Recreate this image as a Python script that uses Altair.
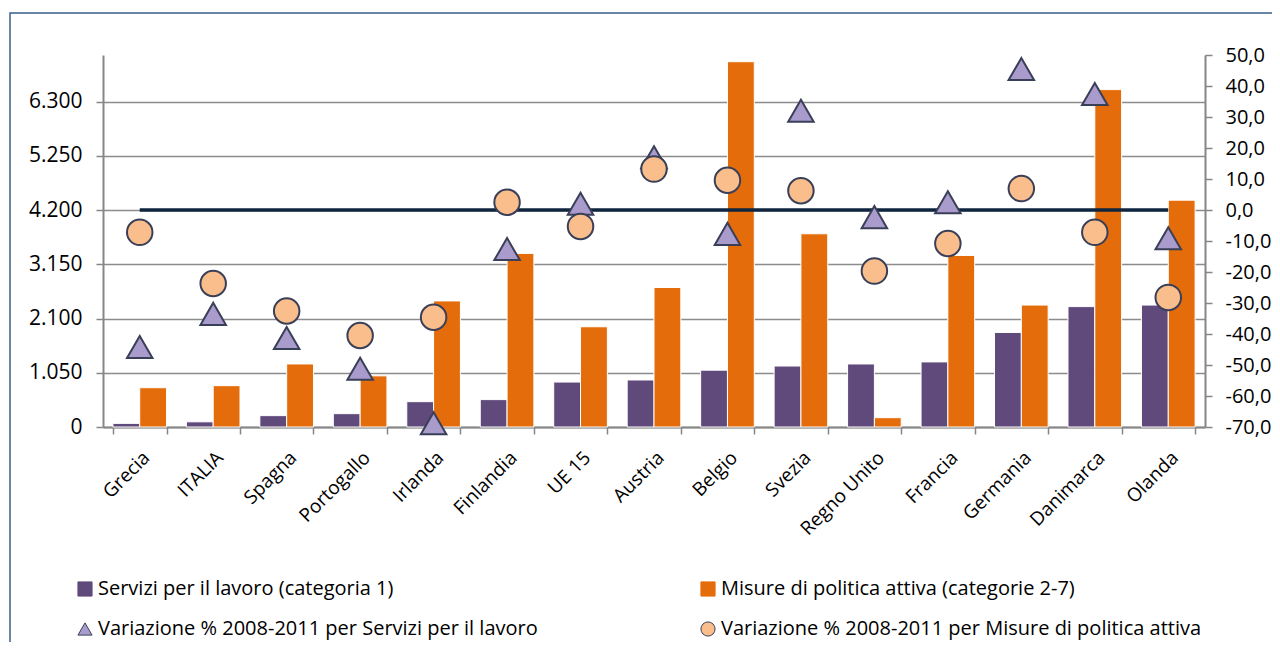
import altair as alt
import pandas as pd

cats = ["Grecia", "ITALIA", "Spagna", "Portogallo", "Irlanda", "Finlandia", "UE 15",
        "Austria", "Belgio", "Svezia", "Regno Unito", "Francia", "Germania",
        "Danimarca", "Olanda"]
servizi = [70, 100, 220, 258, 490, 530, 870, 910, 1100, 1180, 1220, 1260, 1830, 2330, 2360]
misure = [760, 800, 1220, 990, 2440, 3360, 1940, 2700, 7070, 3740, 180, 3320, 2360, 6530, 4390]
var_serv = [-44.2, -33.5, -41.3, -51.2, -68.8, -12.6, 2.0, 17.0, -7.7, 32.0, -2.3, 2.5, 45.5, 37.4, -9.1]
var_mis = [-7.2, -23.7, -32.6, -40.5, -34.6, 2.5, -5.3, 13.2, 9.6, 6.2, -19.7, -10.8, 6.9, -7.2, -28.2]
zero_line = [0] * 15

left_ticks = [0, 1050, 2100, 3150, 4200, 5250, 6300]
right_ticks = [-70, -60, -50, -40, -30, -20, -10, 0, 10, 20, 30, 40, 50]

S1 = "Servizi per il lavoro (categoria 1)"
S2 = "Misure di politica attiva (categorie 2-7)"
S3 = "Variazione % 2008-2011 per Servizi per il lavoro"
S4 = "Variazione % 2008-2011 per Misure di politica attiva"
# legend fills column by column: order chosen so rows read S1 S2 / S3 S4
series = [S1, S3, S2, S4]

PURPLE = "#604A7B"
ORANGE = "#E46C0A"
LAVENDER = "#A99BCB"
PEACH = "#F9BE8C"
DARK = "#3A3F58"
GRID = "#8C8C8C"
FONT = "Open Sans"

bars_df = pd.DataFrame({"cat": cats * 2, "serie": [S1] * 15 + [S2] * 15,
                        "valore": servizi + misure})
pts_df = pd.DataFrame({"cat": cats * 2, "serie": [S3] * 15 + [S4] * 15,
                       "valore": var_serv + var_mis})
zero_df = pd.DataFrame({"cat": cats, "valore": zero_line})

legend = alt.Legend(title=None, orient="none", legendX=-28, legendY=524, columns=2,
                    columnPadding=160, rowPadding=20, labelFont=FONT, labelFontSize=20,
                    labelColor="black", symbolSize=200, symbolStrokeWidth=1,
                    labelOffset=3, padding=0, labelLimit=700)

color_scale = alt.Scale(domain=series, range=[PURPLE, LAVENDER, ORANGE, PEACH])
shape_scale = alt.Scale(domain=series, range=["square", "triangle-up", "square", "circle"])
stroke_scale = alt.Scale(domain=series, range=[PURPLE, DARK, ORANGE, DARK])

xenc = alt.X("cat:N", sort=cats,
             scale=alt.Scale(paddingInner=0.27, paddingOuter=0.135),
             axis=alt.Axis(title=None, labelAngle=-45, labelFont=FONT, labelFontSize=19,
                           labelColor="black", labelPadding=14, tickBand="extent",
                           tickSize=7, tickColor="#868686", tickWidth=1.5,
                           domainColor="#868686", domainWidth=2))

yleft = alt.Y("valore:Q", scale=alt.Scale(domain=[0, 7200], nice=False),
              axis=alt.Axis(orient="left", title=None, values=left_ticks,
                            labelExpr="replace(format(datum.value, ','), ',', '.')",
                            grid=True, gridColor=GRID, gridWidth=1.5,
                            tickSize=7, tickColor="#868686", tickWidth=1.5,
                            domainColor="#868686", domainWidth=2,
                            labelFont=FONT, labelFontSize=21, labelColor="black",
                            labelPadding=14))

yright = alt.Y("valore:Q", scale=alt.Scale(domain=[-70, 50], nice=False),
               axis=alt.Axis(orient="right", title=None, values=right_ticks,
                             labelExpr="(datum.value < 0 ? '-' : '') + replace(format(abs(datum.value), '.1f'), '.', ',')",
                             grid=False, tickSize=7, tickColor="#868686", tickWidth=1.5,
                             domainColor="#868686", domainWidth=2,
                             labelFont=FONT, labelFontSize=20, labelColor="black",
                             labelPadding=13))

frame = alt.Chart(alt.Data(values=[{"k": 1}])).mark_rect(
    fillOpacity=0, stroke="#385D8A", strokeWidth=1.5
).encode(x=alt.value(-93), x2=alt.value(1250), y=alt.value(-42), y2=alt.value(700))

bars = alt.Chart(bars_df).mark_bar(stroke="white", strokeWidth=1).encode(
    x=xenc,
    xOffset=alt.XOffset("serie:N", sort=[S1, S2]),
    y=yleft,
    color=alt.Color("serie:N", scale=color_scale, legend=legend),
)

line = alt.Chart(zero_df).mark_line(color="#0F243E", strokeWidth=3.5).encode(
    x=xenc, y=yright
)

points = alt.Chart(pts_df).mark_point(filled=True, size=650, strokeWidth=2, opacity=1).encode(
    x=xenc,
    y=yright,
    color=alt.Color("serie:N", scale=color_scale, legend=legend),
    shape=alt.Shape("serie:N", scale=shape_scale, legend=legend),
    stroke=alt.Stroke("serie:N", scale=stroke_scale, legend=legend),
)

left = alt.layer(frame, bars)
right = alt.layer(line, points)

chart = alt.layer(left, right).resolve_scale(y="independent").properties(
    width=1102, height=372,
    padding={"left": 95, "top": 47, "right": 67, "bottom": 215},
    autosize=alt.AutoSizeParams(type="none"),
).configure_view(strokeWidth=0)

chart.save("out.html", embed_options={"renderer": "svg", "actions": False})
